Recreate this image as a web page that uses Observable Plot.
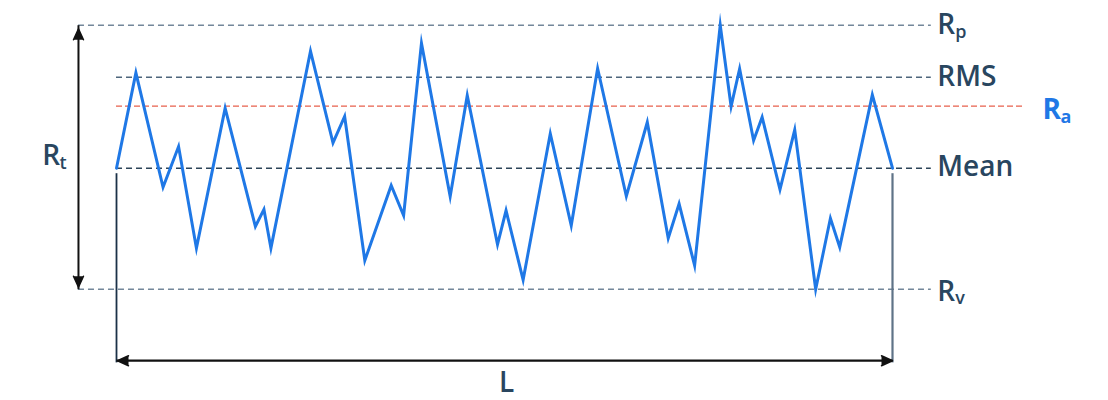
<!DOCTYPE html>
<html>
<head>
<meta charset="utf-8">
<script src="https://cdn.jsdelivr.net/npm/d3@7"></script>
<script src="https://cdn.jsdelivr.net/npm/@observablehq/plot@0.6"></script>
<style>
  html, body { margin: 0; padding: 0; background: #ffffff; }
  #chart svg { display: block; }
</style>
</head>
<body>
<div id="chart"></div>
<script>
// Surface profile (x: position along sampling length, 0..L; y: height relative to mean line)
const profileX = [0, 2.5, 6.0, 8.0, 10.3, 14.0, 17.9, 19.0, 19.9, 25.0, 27.9, 29.4, 32.0, 35.4, 37.0, 39.3, 43.0, 45.2, 49.1, 50.2, 52.4, 55.9, 58.6, 62.0, 65.7, 68.4, 71.1, 72.5, 74.5, 77.8, 79.2, 80.3, 82.1, 83.2, 85.5, 87.4, 90.1, 92.0, 93.2, 97.4, 100];
const profileY = [0, 8.67, -1.73, 1.97, -7.27, 5.45, -5.3, -3.75, -7.27, 10.64, 2.31, 4.7, -8.39, -1.57, -4.3, 11.36, -2.57, 6.61, -6.94, -3.85, -10.15, 3.13, -5.21, 9.06, -2.55, 4.18, -6.36, -3.24, -8.85, 13, 5.61, 9.04, 2.52, 4.64, -1.94, 3.49, -11, -4.55, -7.18, 6.67, 0];

// Reference levels
const levelNames = ["Rp", "RMS", "Ra", "Mean", "Rv"];
const levelValues = [13, 8.27, 5.64, 0, -11];
const labelMain = ["R", "RMS", "R", "Mean", "R"];
const labelSub = ["p", "", "a", "", "v"];

// Sampling length
const L = 100;

// Annotation anchors (data units)
const rtX = -4.9;          // x of the Rt dimension arrow
const lineEndX = 105;      // end of the dashed level lines
const raEndX = 117;        // end of the Ra dashed line
const lArrowY = -17.5;     // y of the L dimension arrow
const lLabelY = -19.5;     // y of the L label
const tickTopY = -0.5;     // top of the L extension lines
const tickBottomY = -17.7; // bottom of the L extension lines

const profile = profileX.map((x, i) => ({x, y: profileY[i]}));
const levels = levelNames.map((name, i) => ({name, value: levelValues[i], main: labelMain[i], sub: labelSub[i]}));
const lev = Object.fromEntries(levels.map(d => [d.name, d]));
const Rp = lev.Rp.value, Rv = lev.Rv.value;

const ink = "#29465f";
const blue = "#1f78e6";
const font = "Open Sans";
const mainSize = 28, subSize = 18;
const inkWeight = 600;

// label styling (offsets in pixels)
const labelStyle = {
  Rp:   {x: lineEndX, dx: 6, dy: 0.3, subDx: 24, subDy: 7, fill: ink, weight: inkWeight},
  RMS:  {x: lineEndX, dx: 6, dy: 0.3, fill: ink, weight: inkWeight},
  Ra:   {x: raEndX, dx: 18, dy: 3.6, subDx: 36, subDy: 11.5, fill: blue, weight: "bold"},
  Mean: {x: lineEndX, dx: 6, dy: -1.5, fill: ink, weight: inkWeight},
  Rv:   {x: lineEndX, dx: 6, dy: 3, subDx: 24, subDy: 8.8, fill: ink, weight: inkWeight}
};

const labelMarks = levels.flatMap(d => {
  const s = labelStyle[d.name];
  const marks = [Plot.text([d], {x: s.x, y: "value", text: "main", textAnchor: "start", dx: s.dx, dy: s.dy, fontFamily: font, fontSize: mainSize, fontWeight: s.weight, fill: s.fill})];
  if (d.sub) marks.push(Plot.text([d], {x: s.x, y: "value", text: "sub", textAnchor: "start", dx: s.subDx, dy: s.subDy, fontFamily: font, fontSize: subSize, fontWeight: s.weight, fill: s.fill}));
  return marks;
});

const outer = levels.filter(d => d.name === "Rp" || d.name === "Rv");

const chart = Plot.plot({
  width: 1108,
  height: 400,
  x: {domain: [0, L], range: [116, 892], axis: null},
  y: {domain: [Rv, Rp], range: [288.7, 24.7], axis: null},
  marks: [
    // Rp / Rv dashed lines (span from the Rt arrow)
    Plot.ruleY(outer, {y: "value", x1: rtX, x2: lineEndX, stroke: "#73879a", strokeWidth: 1.5, strokeDasharray: "6,4"}),
    // RMS
    Plot.ruleY([lev.RMS], {y: "value", x1: 0, x2: lineEndX, stroke: "#4e667c", strokeWidth: 1.5, strokeDasharray: "6,4"}),
    // Mean
    Plot.ruleY([lev.Mean], {y: "value", x1: 0, x2: lineEndX, stroke: "#2c4459", strokeWidth: 1.5, strokeDasharray: "6,4"}),
    // Ra (red)
    Plot.ruleY([lev.Ra], {y: "value", x1: 0, x2: raEndX, stroke: "#e8604c", strokeWidth: 1.3, strokeDasharray: "6,3"}),

    // L extension lines
    Plot.ruleX([0], {x: d => d, y1: tickTopY, y2: tickBottomY, stroke: "#1b3148", strokeWidth: 1.8}),
    Plot.ruleX([L], {x: d => d, y1: tickTopY, y2: tickBottomY, stroke: "#5f7387", strokeWidth: 2.2}),

    // profile
    Plot.line(profile, {x: "x", y: "y", stroke: blue, strokeWidth: 3, strokeLinejoin: "miter", strokeMiterlimit: 10}),

    // Rt dimension arrow
    Plot.link([{y1: Rp, y2: Rv}], {x1: rtX, x2: rtX, y1: "y1", y2: "y2", stroke: "#111", strokeWidth: 2}),
    Plot.vector([Rp], {x: rtX, y: d => d, rotate: 0, length: 11, r: 5, shape: "spike", anchor: "end", fill: "#111", stroke: "#111", dy: 3.5}),
    Plot.vector([Rv], {x: rtX, y: d => d, rotate: 180, length: 11, r: 5, shape: "spike", anchor: "end", fill: "#111", stroke: "#111", dy: -2}),

    // L dimension arrow
    Plot.link([{x1: 0, x2: L}], {x1: "x1", x2: "x2", y1: lArrowY, y2: lArrowY, stroke: "#111", strokeWidth: 2.2}),
    Plot.vector([0], {x: d => d, y: lArrowY, rotate: 270, length: 11, r: 5, shape: "spike", anchor: "end", fill: "#111", stroke: "#111", dx: 1}),
    Plot.vector([L], {x: d => d, y: lArrowY, rotate: 90, length: 11, r: 5, shape: "spike", anchor: "end", fill: "#111", stroke: "#111"}),

    // level labels
    ...labelMarks,

    // Rt label
    Plot.text(["R"], {x: rtX, y: (Rp + Rv) / 2, text: d => d, textAnchor: "start", dx: -36.3, dy: -0.7, fontFamily: font, fontSize: mainSize, fontWeight: inkWeight, fill: ink}),
    Plot.text(["t"], {x: rtX, y: (Rp + Rv) / 2, text: d => d, textAnchor: "start", dx: -19, dy: 6.5, fontFamily: font, fontSize: subSize, fontWeight: inkWeight, fill: ink}),

    // L label
    Plot.text(["L"], {x: L / 2, y: lLabelY, text: d => d, textAnchor: "middle", dx: 2, fontFamily: font, fontSize: mainSize, fontWeight: inkWeight, fill: ink})
  ]
});
document.getElementById("chart").appendChild(chart);
</script>
</body>
</html>
